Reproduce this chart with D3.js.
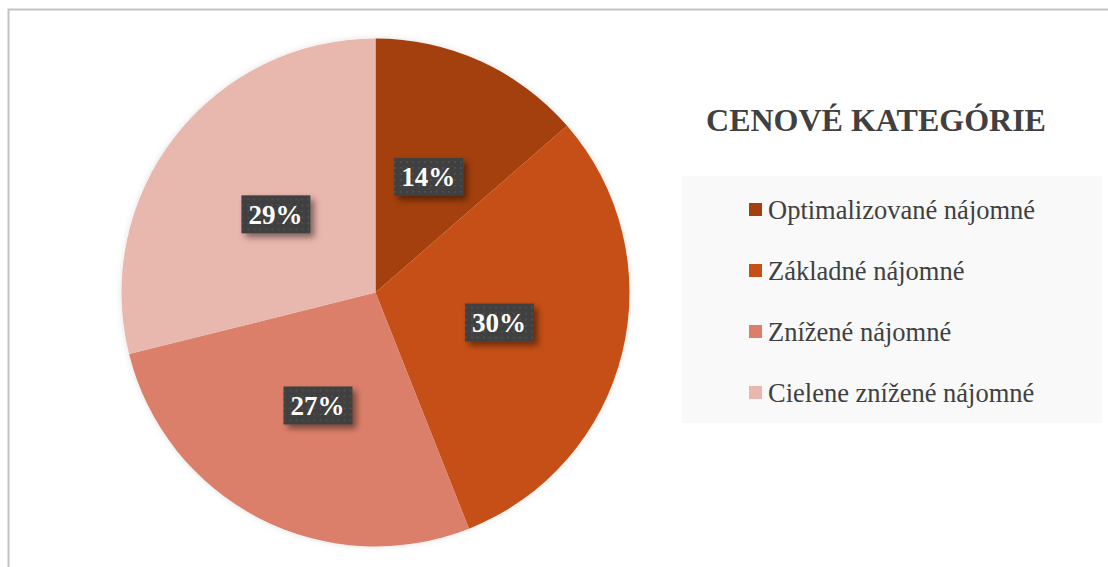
<!DOCTYPE html>
<html>
<head>
<meta charset="utf-8">
<script src="https://d3js.org/d3.v7.min.js"></script>
<style>
  body { margin: 0; background: #fff; }
  svg { display: block; }
</style>
</head>
<body>
<svg id="chart"></svg>
<script>
  const width = 1108;
  const height = 567;

  const categories = ["Optimalizované nájomné", "Základné nájomné", "Znížené nájomné", "Cielene znížené nájomné"];
  const shares = [13.6, 30.4, 27.1, 28.9];
  const colors = ["#A3410E", "#C55015", "#DC7F6A", "#E8B7AD"];
  const title = "CENOVÉ KATEGÓRIE";

  const svg = d3.select("#chart")
    .attr("width", width)
    .attr("height", height);

  const defs = svg.append("defs");

  const pat = defs.append("pattern")
    .attr("id", "dots")
    .attr("width", 6)
    .attr("height", 6)
    .attr("patternUnits", "userSpaceOnUse");
  pat.append("rect").attr("width", 6).attr("height", 6).attr("fill", "#3f3f3f");
  pat.append("circle").attr("cx", 3).attr("cy", 3).attr("r", 1).attr("fill", "#545454");

  const shadow = defs.append("filter")
    .attr("id", "shadow")
    .attr("x", "-30%").attr("y", "-30%")
    .attr("width", "170%").attr("height", "190%");
  shadow.append("feDropShadow")
    .attr("dx", 4).attr("dy", 4)
    .attr("stdDeviation", 3)
    .attr("flood-color", "#000")
    .attr("flood-opacity", 0.45);

  const glow = defs.append("filter")
    .attr("id", "glow")
    .attr("x", "-10%").attr("y", "-10%")
    .attr("width", "120%").attr("height", "120%");
  glow.append("feDropShadow")
    .attr("dx", 0).attr("dy", 0)
    .attr("stdDeviation", 3)
    .attr("flood-color", "#000")
    .attr("flood-opacity", 0.12);

  // chart frame
  svg.append("path")
    .attr("d", "M8.5,567 L8.5,9.5 L1108,9.5")
    .attr("fill", "none")
    .attr("stroke", "#c3c3c3")
    .attr("stroke-width", 2);

  const cx = 375.5, cy = 292.5, radius = 254;

  const pie = d3.pie().sort(null).value(d => d);
  const arcs = pie(shares);
  const arc = d3.arc().innerRadius(0).outerRadius(radius);

  const g = svg.append("g").attr("transform", `translate(${cx},${cy})`);

  g.append("g")
    .attr("filter", "url(#glow)")
    .selectAll("path.slice")
    .data(arcs)
    .join("path")
    .attr("class", "slice")
    .attr("d", arc)
    .attr("fill", (d, i) => colors[i]);

  const labels = g.selectAll("g.label")
    .data(arcs)
    .join("g")
    .attr("class", "label")
    .attr("transform", d => `translate(${arc.centroid(d)})`);

  labels.append("rect")
    .attr("x", -34).attr("y", -19)
    .attr("width", 69).attr("height", 38)
    .attr("fill", "url(#dots)")
    .attr("filter", "url(#shadow)");

  labels.append("text")
    .attr("text-anchor", "middle")
    .attr("dy", "0.35em")
    .attr("font-family", "'Liberation Serif', 'Times New Roman', serif")
    .attr("font-weight", "bold")
    .attr("font-size", 27)
    .attr("fill", "#fff")
    .text(d => Math.round(d.data) + "%");

  // title
  svg.append("text")
    .attr("x", 876)
    .attr("y", 131)
    .attr("text-anchor", "middle")
    .attr("font-family", "'Liberation Serif', 'Times New Roman', serif")
    .attr("font-weight", "bold")
    .attr("font-size", 32)
    .attr("fill", "#404040")
    .text(title);

  // legend
  svg.append("rect")
    .attr("x", 682).attr("y", 176)
    .attr("width", 420).attr("height", 247)
    .attr("fill", "#f9f9f9");

  const ly = d3.scalePoint()
    .domain(categories)
    .range([210, 393]);

  const leg = svg.selectAll("g.leg")
    .data(categories)
    .join("g")
    .attr("class", "leg")
    .attr("transform", d => `translate(749,${ly(d)})`);

  leg.append("rect")
    .attr("x", 0).attr("y", -7)
    .attr("width", 13).attr("height", 13)
    .attr("fill", (d, i) => colors[i]);

  leg.append("text")
    .attr("x", 19)
    .attr("dy", "0.35em")
    .attr("font-family", "'Liberation Serif', 'Times New Roman', serif")
    .attr("font-size", 26.5)
    .attr("fill", "#404040")
    .text(d => d);
</script>
</body>
</html>
